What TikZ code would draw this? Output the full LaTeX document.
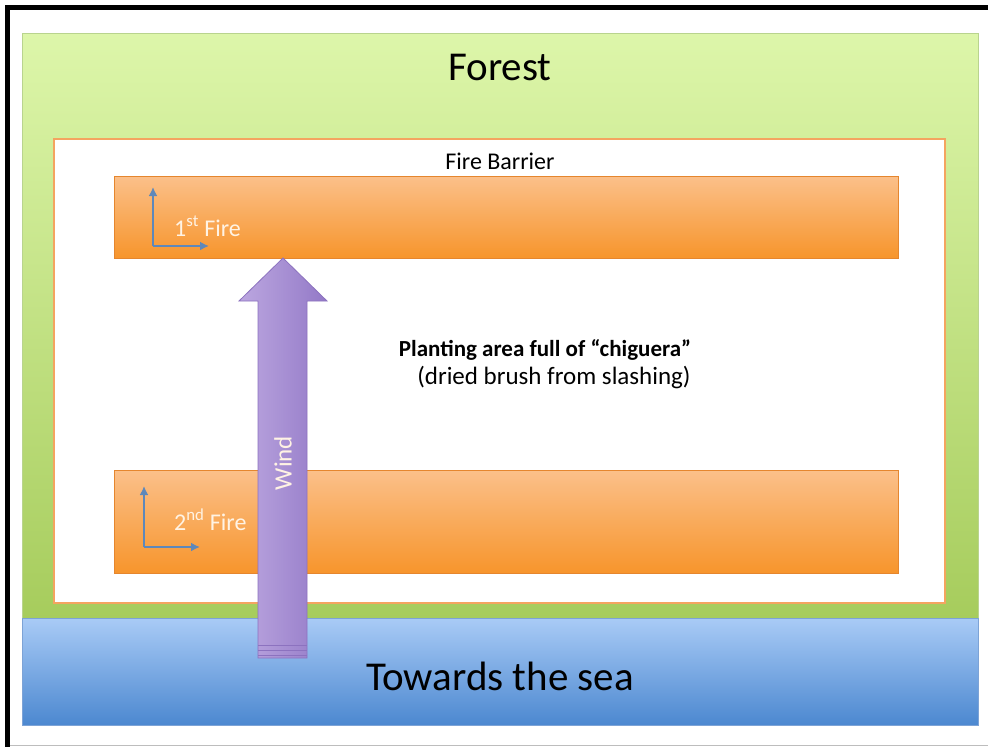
\documentclass[tikz,border=0pt]{standalone}
\usepackage{fontspec}
\setmainfont{Carlito}
\usetikzlibrary{arrows.meta}
\definecolor{forestTop}{HTML}{DDF6AA}
\definecolor{forestBot}{HTML}{A6CC5C}
\definecolor{forestEdge}{HTML}{B9D48E}
\definecolor{fireTop}{HTML}{FBC08A}
\definecolor{fireBot}{HTML}{F7952C}
\definecolor{fireEdge}{HTML}{E5862E}
\definecolor{barrierEdge}{HTML}{F4A460}
\definecolor{seaTop}{HTML}{A9CBF6}
\definecolor{seaBot}{HTML}{4C88D0}
\definecolor{seaEdge}{HTML}{7DA3D6}
\definecolor{windLeft}{HTML}{BCA7E0}
\definecolor{windRight}{HTML}{9379C7}
\definecolor{windEdge}{HTML}{8C72BF}
\definecolor{pointer}{HTML}{5E88BA}
\definecolor{frameGray}{HTML}{BDBDBD}
\definecolor{fireText}{HTML}{FFF3E4}
\tikzset{
  band/.style={draw=fireEdge, line width=0.8pt, top color=fireTop, bottom color=fireBot},
  label/.style={inner sep=0pt, font=\fontsize{24}{28}\selectfont},
  firelabel/.style={label, text=fireText},
  bigtitle/.style={inner sep=0pt, font=\fontsize{41}{48}\selectfont},
  pointerline/.style={pointer, line width=2.4pt, -{Latex[length=9pt,width=9pt]}}
}
\begin{document}
\begin{tikzpicture}[x=1pt,y=-1pt]
  \useasboundingbox (0,0) rectangle (988,747);
  \fill[white] (0,0) rectangle (988,747);
  % outer frame
  \draw[frameGray, line width=1pt] (8,745.5) -- (988,745.5);
  \draw[black, line width=5pt] (7.5,747) -- (7.5,7.5) -- (988,7.5);

  % forest area
  \shade[top color=forestTop, bottom color=forestBot, draw=forestEdge, line width=1pt]
    (22,33) rectangle (978,622);
  % fire barrier
  \draw[barrierEdge, line width=1.6pt, fill=white] (54,139) rectangle (945,603);
  % burning bands
  \path[band] (114,176) rectangle (898,258);
  \path[band] (114,470) rectangle (898,573);
  % sea
  \shade[top color=seaTop, bottom color=seaBot, draw=seaEdge, line width=0.8pt]
    (22,618) rectangle (978,725);

  % wind arrow
  \shade[left color=windLeft, right color=windRight, draw=windEdge, line width=0.8pt]
    (258,658) -- (258,301) -- (239,301) -- (283,258) -- (327,301) -- (307,301) -- (307,658) -- cycle;
  \foreach \yy in {645,650,655}
    \draw[windEdge, line width=0.9pt] (258,\yy) -- (307,\yy);
  \node[firelabel, rotate=90, font=\fontsize{25}{28}\selectfont] (wind) at (283,463) {Wind};

  % fire direction markers
  \coordinate (c1) at (153,246);
  \coordinate (u1) at (153,187);
  \coordinate (r1) at (209,246);
  \draw[pointerline] (c1) -- (u1);
  \draw[pointerline] (c1) -- (r1);
  \coordinate (c2) at (144,547);
  \coordinate (u2) at (144,486);
  \coordinate (r2) at (200,547);
  \draw[pointerline] (c2) -- (u2);
  \draw[pointerline] (c2) -- (r2);
  \node[firelabel, anchor=base west] (fire1) at (174,236) {1\textsuperscript{st} Fire};
  \node[firelabel, anchor=base west] (fire2) at (174,530) {2\textsuperscript{nd} Fire};

  % titles
  \node[bigtitle] (forest) at (500,67) {Forest};
  \node[label] (barrier) at (500,161) {Fire Barrier};
  \node[label, font=\fontsize{23}{28}\selectfont\bfseries] (planting) at (545,350) {Planting area full of “chiguera”};
  \node[label, font=\fontsize{25}{28}\selectfont] (brush) at (554,378) {(dried brush from slashing)};
  \node[bigtitle] (sea) at (500,676) {Towards the sea};
\end{tikzpicture}
\end{document}
